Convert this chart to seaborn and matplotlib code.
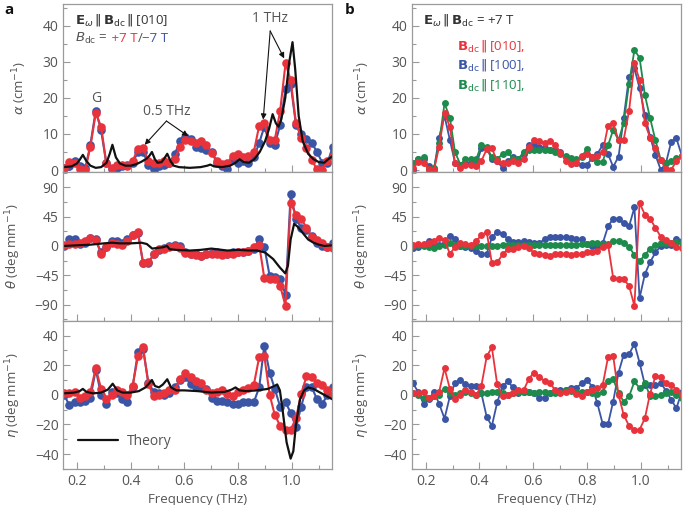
import seaborn as sns
import matplotlib.pyplot as plt
from matplotlib.ticker import MultipleLocator
from matplotlib.offsetbox import TextArea, HPacker, AnchoredOffsetbox

# frequency grid of the measured points (THz)
FREQ = [0.152, 0.172, 0.192, 0.211, 0.231, 0.250, 0.270, 0.290, 0.309, 0.329,
        0.348, 0.368, 0.388, 0.407, 0.427, 0.446, 0.466, 0.486, 0.505, 0.525,
        0.544, 0.564, 0.584, 0.603, 0.623, 0.642, 0.662, 0.682, 0.701, 0.721,
        0.740, 0.760, 0.780, 0.799, 0.819, 0.838, 0.858, 0.878, 0.897, 0.917,
        0.936, 0.956, 0.976, 0.995, 1.015, 1.034, 1.054, 1.074, 1.093, 1.113,
        1.132, 1.152]

# absorption alpha (cm^-1)
ALPHA_P7 = [0.5, 2.3, 2.0, 0.3, 0.0, 6.5, 15.8, 12.0, 2.0, 0.5,
            1.5, 1.5, 1.0, 2.5, 5.8, 6.0, 2.5, 2.0, 2.0, 2.5,
            2.0, 3.0, 6.5, 8.2, 8.0, 7.5, 8.0, 7.0, 4.8, 2.6,
            1.6, 2.0, 3.8, 4.5, 3.5, 4.0, 5.0, 12.3, 13.0, 8.2,
            8.4, 16.4, 29.6, 25.0, 13.0, 9.0, 6.2, 2.7, 0.2, 0.1,
            2.5, 4.0]
ALPHA_M7 = [0.5, 1.0, 2.5, 1.0, 0.5, 7.0, 16.5, 11.0, 2.0, 0.3,
            0.5, 1.0, 1.5, 2.0, 5.0, 5.0, 1.5, 0.3, 1.0, 1.5,
            2.0, 4.5, 8.0, 9.3, 8.5, 6.5, 6.0, 5.5, 5.0, 2.0,
            1.0, 0.3, 3.0, 2.0, 2.5, 2.0, 3.5, 7.5, 12.0, 7.5,
            7.0, 12.5, 22.5, 24.0, 12.5, 10.0, 8.5, 7.5, 5.0, 2.0,
            2.0, 6.5]
ALPHA_100 = [0.0, 3.0, 3.0, 1.0, 0.3, 9.0, 15.0, 8.3, 2.0, 1.5,
             2.0, 2.0, 1.5, 6.0, 6.0, 3.0, 2.5, 0.5, 2.5, 3.5,
             3.0, 4.5, 7.0, 7.0, 6.5, 6.0, 5.5, 5.5, 5.0, 3.5,
             2.5, 2.0, 1.5, 1.5, 3.2, 4.5, 6.9, 4.4, 0.9, 3.7,
             14.4, 25.9, 28.2, 22.7, 15.3, 9.3, 4.2, 0.0, 1.9, 7.9,
             8.8, 4.0]
ALPHA_110 = [2.0, 3.0, 3.5, 0.3, 0.5, 7.5, 18.5, 14.5, 5.0, 1.5,
             3.0, 3.0, 3.0, 7.0, 6.5, 3.5, 3.0, 4.5, 5.0, 3.0,
             3.0, 5.0, 5.5, 5.5, 5.5, 5.5, 5.5, 5.0, 4.4, 4.0,
             3.2, 3.0, 3.7, 5.8, 3.5, 2.3, 2.3, 6.9, 11.1, 8.3,
             13.0, 24.0, 33.3, 31.2, 20.8, 14.5, 8.3, 2.8, 1.9, 2.5,
             3.2, 4.0]

# rotation theta (deg mm^-1)
THETA_P7 = [1, 3, 3, 4, 7, 12, 9, -12, -2, 4,
            3, 2, 7, 17, 21, -26, -25, -13, -5, -4,
            -2, 0, -3, -11, -13, -14, -16, -13, -13, -13,
            -14, -13, -12, -10, -9, -8, -1, 2, -49, -51,
            -51, -61, -92, 66, 48, 42, 28, 14, 9, 4,
            -2, -3]
THETA_M7 = [0, 10, 10, 3, 5, 12, 10, -10, -2, 7,
            7, 5, 10, 17, 20, -26, -26, -12, -6, -3,
            0, 2, 0, -10, -12, -13, -15, -13, -11, -10,
            -12, -12, -10, -10, -9, -7, -4, 10, -1, -46,
            -48, -50, -75, 79, 42, 28, 24, 15, 5, 0,
            -2, 5]
THETA_100 = [-3, -2, 2, 7, 0, 1, 5, 16, 10, 0,
             -1, -3, -7, -12, -12, 13, 22, 18, 11, 6,
             6, 7, 6, 4, 5, 10, 13, 14, 14, 13,
             12, 11, 10, 3, 0, -1, 4, 30, 42, 42,
             35, 30, 59, -80, -43, -25, -10, 0, 1, 2,
             10, 8]
THETA_110 = [0, 1, 0, -2, -3, 0, 2, 4, 1, 0,
             0, 0, 0, 0, 0, 0, 0, 1, 1, 1,
             1, 1, 2, 2, 2, 2, 2, 2, 1, 1,
             2, 2, 3, 3, 4, 4, 3, 3, 8, 7,
             4, -1, -14, -23, -14, -4, 2, 4, 4, 4,
             6, 5]

# ellipticity eta (deg mm^-1)
ETA_P7 = [1, 1, 2, -2, -1, 2, 18, 4, -3, 0,
          3, 2, 0, 6, 26, 32, 7, -1, 0, 1,
          3, 3, 11, 15, 12, 9, 8, 3, 1, 1.6,
          3.4, 0.7, -0.7, 1.6, 3.4, 4.5, 6.7, 25.4, 26.3, 0,
          -13.5, -20.9, -23.6, -23.6, -15.7, 0.7, 12.4, 11.9, 7.9, 6.7,
          3.4, 0]
ETA_M7 = [0, -7, -5, -5, -4, -2, 17, 0, -6, 2,
          1, -3, -5, 5, 29, 31, 8, 2, 1, 0,
          1, 5, 10, 12, 7, 5, 5, 4, -2, -4,
          -4, -5, -6, -6, -5, -5, -5, 5, 33, 15,
          4, -8, -5, -12, -22, -8, 5, 5, -3, -6,
          0, 5]
ETA_100 = [8, 2, -6, -3, 2, -6, -16, -1, 8, 10,
           7, 6, 6, 1, -15, -21, -5, 6, 9, 5,
           1, 2, 2, 1, -2, -2, 1, 2, 3.4, 3.5,
           4.5, 4.5, 7.9, 10.1, 5.6, -5.6, -19.6, -19.6, -4.5, 15,
           27, 27.4, 34.4, 21.8, 6.7, 6.7, 6.7, 7.9, 2.9, -3.4,
           -9, 2]
ETA_110 = [1, 0, -2, -2, -1, 0, 4, 1, 0, 1,
           2, 1, 0, 1, 1, 2, 2, 1, 0, 1,
           2, 2, 2, 1, 2, 2, 1, 1, 2, 3,
           2.5, 2, 2, 1.6, 1, 0.7, 2.2, 9, 10.6, 1.1,
           -4.5, -1.1, 9, 4.5, 7.9, -0.7, -1.1, 0, 1.1, 2.2,
           0, -2]

# theory curves
TH_ALPHA_F = [0.15, 0.18, 0.20, 0.21, 0.222, 0.235, 0.25, 0.27, 0.29, 0.31,
              0.322, 0.332, 0.345, 0.36, 0.38, 0.40, 0.42, 0.44, 0.46, 0.47,
              0.479, 0.49, 0.50, 0.515, 0.525, 0.536, 0.548, 0.56, 0.58, 0.62,
              0.66, 0.685, 0.696, 0.71, 0.74, 0.77, 0.79, 0.805, 0.82, 0.84,
              0.86, 0.88, 0.90, 0.915, 0.928, 0.94, 0.95, 0.96, 0.975, 0.99,
              1.002, 1.012, 1.025, 1.04, 1.06, 1.08, 1.10, 1.12, 1.135, 1.15]
TH_ALPHA = [0.8, 1.0, 1.8, 2.8, 4.2, 2.5, 1.2, 0.6, 0.8, 2.0,
            4.5, 7.0, 3.5, 1.8, 1.2, 1.2, 1.6, 2.3, 3.2, 4.0,
            5.0, 3.0, 2.0, 2.2, 3.2, 4.5, 2.5, 1.2, 0.8, 0.6,
            0.8, 1.2, 1.5, 1.0, 0.8, 1.2, 2.0, 3.0, 2.2, 2.0,
            3.0, 5.0, 8.0, 11.5, 15.5, 13.0, 12.0, 14.0, 20.0, 30.0,
            35.5, 28.0, 15.0, 8.0, 4.5, 3.0, 2.2, 2.0, 3.0, 3.8]
TH_THETA_F = [0.15, 0.20, 0.25, 0.30, 0.33, 0.36, 0.40, 0.44, 0.46, 0.48,
              0.50, 0.52, 0.535, 0.545, 0.57, 0.62, 0.66, 0.70, 0.72, 0.76,
              0.80, 0.84, 0.87, 0.90, 0.93, 0.955, 0.975, 0.985, 0.995, 1.008,
              1.02, 1.04, 1.06, 1.08, 1.10, 1.12, 1.15]
TH_THETA = [0, 1, 2, 4, 5, 4, 4, 5, 3, -4,
            -3, -2, 0, -5, -6, -7, -6, -4, -5, -7,
            -6, -7, -7, -10, -20, -33, -42, -30, 10, 34,
            30, 20, 10, 5, 2, 0, 1]
TH_ETA_F = [0.15, 0.19, 0.21, 0.222, 0.235, 0.26, 0.29, 0.315, 0.333, 0.35,
            0.37, 0.40, 0.43, 0.455, 0.47, 0.479, 0.49, 0.505, 0.52, 0.536,
            0.55, 0.57, 0.60, 0.65, 0.70, 0.75, 0.775, 0.79, 0.805, 0.83,
            0.87, 0.91, 0.935, 0.945, 0.955, 0.965, 0.98, 0.995, 1.005, 1.015,
            1.03, 1.045, 1.06, 1.08, 1.10, 1.12, 1.15]
TH_ETA = [1, 1.5, 2.5, 4, 2, 1, 1.5, 3.5, 7.5, 3,
          1.5, 1.5, 2.5, 5, 8, 10, 6, 5, 7, 10.5,
          5, 3, 3, 2.5, 1.5, 2, 3.5, 5, 3, 2.5,
          3, 4, 6, 7, 3, -10, -32, -43, -38, -20,
          -3, 3, 5, 4, 2, 0, -3]

RED = "#e8333c"
BLUE = "#3b55a5"
GREEN = "#1d8b4b"
TXT = "#555555"
SPINE = "#9a9a9a"

sns.set_theme(style="ticks")
plt.rcParams.update({
    "font.family": ["Open Sans", "DejaVu Sans"],
    "mathtext.fontset": "dejavusans",
    "font.size": 9.5,
    "text.color": TXT,
    "axes.labelcolor": TXT,
    "axes.edgecolor": SPINE,
    "axes.linewidth": 0.9,
    "xtick.color": SPINE,
    "ytick.color": SPINE,
    "xtick.labelcolor": TXT,
    "ytick.labelcolor": TXT,
    "xtick.labelsize": 10,
    "ytick.labelsize": 10,
})

fig = plt.figure(figsize=(6.85, 5.05), dpi=100)
rows = [(0.6588, 0.3333), (0.3650, 0.2939), (0.0713, 0.2937)]
cols = [(0.0927, 0.3924), (0.6018, 0.3927)]
axes = [[fig.add_axes([c[0], r[0], c[1], r[1]]) for c in cols] for r in rows]

ylims = [(-0.64, 46.1), (-114.5, 113), (-50, 50)]
ymaj = [10, 45, 20]
ymin = [5, 22.5, 10]
ylabels = [r"$\alpha$ (cm$^{-1}$)", r"$\theta$ (deg mm$^{-1}$)", r"$\eta$ (deg mm$^{-1}$)"]

left_sets = [(ALPHA_M7, ALPHA_P7, TH_ALPHA_F, TH_ALPHA),
             (THETA_M7, THETA_P7, TH_THETA_F, TH_THETA),
             (ETA_M7, ETA_P7, TH_ETA_F, TH_ETA)]
right_sets = [(ALPHA_100, ALPHA_110, ALPHA_P7),
              (THETA_100, THETA_110, THETA_P7),
              (ETA_100, ETA_110, ETA_P7)]

def dots(ax, y, color, ms, lw):
    sns.lineplot(x=FREQ, y=y, ax=ax, color=color, marker="o", markersize=ms,
                 markeredgewidth=0, linewidth=lw, estimator=None, sort=False,
                 legend=False)

for i in range(3):
    axl, axr = axes[i]
    m7, p7, tf, tv = left_sets[i]
    dots(axl, m7, BLUE, 6.2, 1.5)
    dots(axl, p7, RED, 6.2, 1.5)
    sns.lineplot(x=tf, y=tv, ax=axl, color="#111111", linewidth=1.6,
                 estimator=None, sort=False, legend=False)

    b100, g110, r010 = right_sets[i]
    dots(axr, b100, BLUE, 5.0, 1.3)
    dots(axr, g110, GREEN, 5.0, 1.3)
    dots(axr, r010, RED, 5.0, 1.3)

    for j, ax in enumerate((axl, axr)):
        ax.set_xlim(0.15, 1.15)
        ax.set_ylim(*ylims[i])
        ax.xaxis.set_major_locator(MultipleLocator(0.2))
        ax.xaxis.set_minor_locator(MultipleLocator(0.1))
        ax.yaxis.set_major_locator(MultipleLocator(ymaj[i]))
        ax.yaxis.set_minor_locator(MultipleLocator(ymin[i]))
        ax.tick_params(which="both", direction="in", width=0.8)
        ax.tick_params(which="major", length=5)
        ax.tick_params(which="minor", length=3)
        ax.set_ylabel(ylabels[i], fontsize=9.5)
        ax.yaxis.set_label_coords(-0.13 if (i == 0 and j == 0) else -0.15, 0.5)
        if i < 2:
            ax.tick_params(labelbottom=False)
            ax.set_xlabel("")
        else:
            ax.set_xlabel("Frequency (THz)", fontsize=9.5, labelpad=3)
            ax.xaxis.set_major_formatter(plt.FuncFormatter(lambda v, p: f"{v:.1f}"))

# panel a annotations
ax = axes[0][0]
ax.text(0.043, 0.905, r"$\mathbf{E}_{\omega}\,\|\,\mathbf{B}_{\rm dc}\,\|\,$[010]",
        transform=ax.transAxes, va="center", ha="left", fontsize=9.5, color="#333333")
parts = [TextArea(r"$B_{\rm dc}$ =", textprops=dict(color=TXT, fontsize=9.5)),
         TextArea("\u00a0+7 T", textprops=dict(color=RED, fontsize=9.5)),
         TextArea("/", textprops=dict(color=TXT, fontsize=9.5)),
         TextArea("\u22127 T", textprops=dict(color=BLUE, fontsize=9.5))]
box = HPacker(children=parts, align="baseline", pad=0, sep=0)
ax.add_artist(AnchoredOffsetbox(loc="center left", child=box, pad=0, borderpad=0,
                                frameon=False, bbox_to_anchor=(0.043, 0.795),
                                bbox_transform=ax.transAxes))
ax.text(0.272, 19.8, "G", ha="center", va="center", fontsize=10)
ax.text(0.533, 16.3, "0.5 THz", ha="center", va="center", fontsize=10)
ax.text(0.919, 42.0, "1 THz", ha="center", va="center", fontsize=10)
arrow = dict(arrowstyle="-|>", color="#111111", lw=0.8, shrinkA=0, shrinkB=0,
             mutation_scale=8)
for tgt in [(0.452, 7.0), (0.614, 9.4)]:
    ax.annotate("", xy=tgt, xytext=(0.533, 13.6), arrowprops=arrow)
for tgt in [(0.893, 14.0), (0.971, 31.0)]:
    ax.annotate("", xy=tgt, xytext=(0.919, 38.6), arrowprops=arrow)

# theory legend
axb = axes[2][0]
theory_line = axb.lines[-1]
axb.legend(handles=[theory_line], labels=["Theory"], loc="center left",
           bbox_to_anchor=(0.054, 0.184), frameon=False, borderpad=0,
           borderaxespad=0, handlelength=2.9, handletextpad=0.6, fontsize=10,
           labelcolor=TXT)

# panel b annotations
ax = axes[0][1]
ax.text(0.04, 0.905, r"$\mathbf{E}_{\omega}\,\|\,\mathbf{B}_{\rm dc}$ = +7 T",
        transform=ax.transAxes, va="center", ha="left", fontsize=9.5, color="#333333")
for yy, lab, col in [(0.752, "[010],", RED), (0.636, "[100],", BLUE), (0.520, "[110],", GREEN)]:
    ax.text(0.167, yy, r"$\mathbf{B}_{\rm dc}\,\|\,$" + lab, transform=ax.transAxes,
            va="center", ha="left", fontsize=9.5, color=col)

fig.text(0.006, 0.981, "a", fontsize=11, fontweight="bold", color="#111111", va="center")
fig.text(0.504, 0.981, "b", fontsize=11, fontweight="bold", color="#111111", va="center")

fig.savefig("out.png", dpi=100)
